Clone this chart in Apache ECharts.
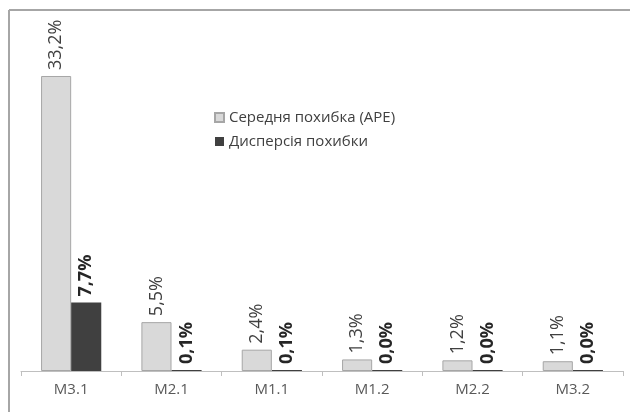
<!DOCTYPE html>
<html>
<head>
<meta charset="utf-8">
<script src="https://cdn.jsdelivr.net/npm/echarts@6/dist/echarts.min.js"></script>
<style>
  html, body { margin: 0; padding: 0; background: #ffffff; }
  #chart { width: 630px; height: 412px; }
</style>
</head>
<body>
<div id="chart"></div>
<script>
// Model variants on the category axis
const models = ['M3.1', 'M2.1', 'M1.1', 'M1.2', 'M2.2', 'M3.2'];
// Mean absolute percentage error per model, %
const meanError = [33.2, 5.5, 2.4, 1.3, 1.2, 1.1];
// Error variance per model, %
const errorVariance = [7.7, 0.1, 0.1, 0.0, 0.0, 0.0];
const seriesNames = ['Середня похибка (APE)', 'Дисперсія похибки'];

const fmt = p => p.value.toFixed(1).replace('.', ',') + '%';
const FONT = '"Open Sans", sans-serif';

const chart = echarts.init(document.getElementById('chart'), null, { renderer: 'canvas' });
chart.setOption({
  backgroundColor: '#ffffff',
  animation: false,
  grid: { left: 21, right: 7, top: 60, bottom: 41 },
  legend: {
    orient: 'vertical',
    left: 209,
    top: 105,
    itemWidth: 9,
    itemHeight: 9,
    itemGap: 9,
    icon: 'rect',
    textStyle: { fontFamily: FONT, fontSize: 15, color: '#404040' },
    data: seriesNames
  },
  xAxis: {
    type: 'category',
    data: models,
    axisLine: { lineStyle: { color: '#bfbfbf', width: 1 } },
    axisTick: { show: true, length: 5, lineStyle: { color: '#bfbfbf' } },
    axisLabel: { fontFamily: FONT, fontSize: 15, color: '#595959', margin: 11 }
  },
  yAxis: {
    type: 'value',
    min: 0,
    max: 35,
    show: false,
    splitLine: { show: false }
  },
  series: [
    {
      name: seriesNames[0],
      type: 'bar',
      data: meanError,
      barCategoryGap: '40%',
      barGap: '0%',
      itemStyle: { color: '#d9d9d9', borderColor: '#a6a6a6', borderWidth: 1 },
      label: {
        show: true,
        position: 'top',
        rotate: 90,
        align: 'left',
        verticalAlign: 'middle',
        distance: 6,
        fontFamily: FONT,
        fontSize: 18,
        color: '#404040',
        formatter: fmt
      }
    },
    {
      name: seriesNames[1],
      type: 'bar',
      data: errorVariance,
      barMinHeight: 1,
      itemStyle: { color: '#404040', borderColor: '#404040', borderWidth: 0 },
      label: {
        show: true,
        position: 'top',
        rotate: 90,
        align: 'left',
        verticalAlign: 'middle',
        distance: 6,
        fontFamily: FONT,
        fontSize: 18,
        fontWeight: 'bold',
        color: '#262626',
        formatter: fmt
      }
    }
  ],
  graphic: [
    { type: 'line', shape: { x1: 9, y1: 10, x2: 630, y2: 10 }, style: { stroke: '#a6a6a6', lineWidth: 2 } },
    { type: 'line', shape: { x1: 9, y1: 10, x2: 9, y2: 412 }, style: { stroke: '#a6a6a6', lineWidth: 2 } }
  ]
});
</script>
</body>
</html>
